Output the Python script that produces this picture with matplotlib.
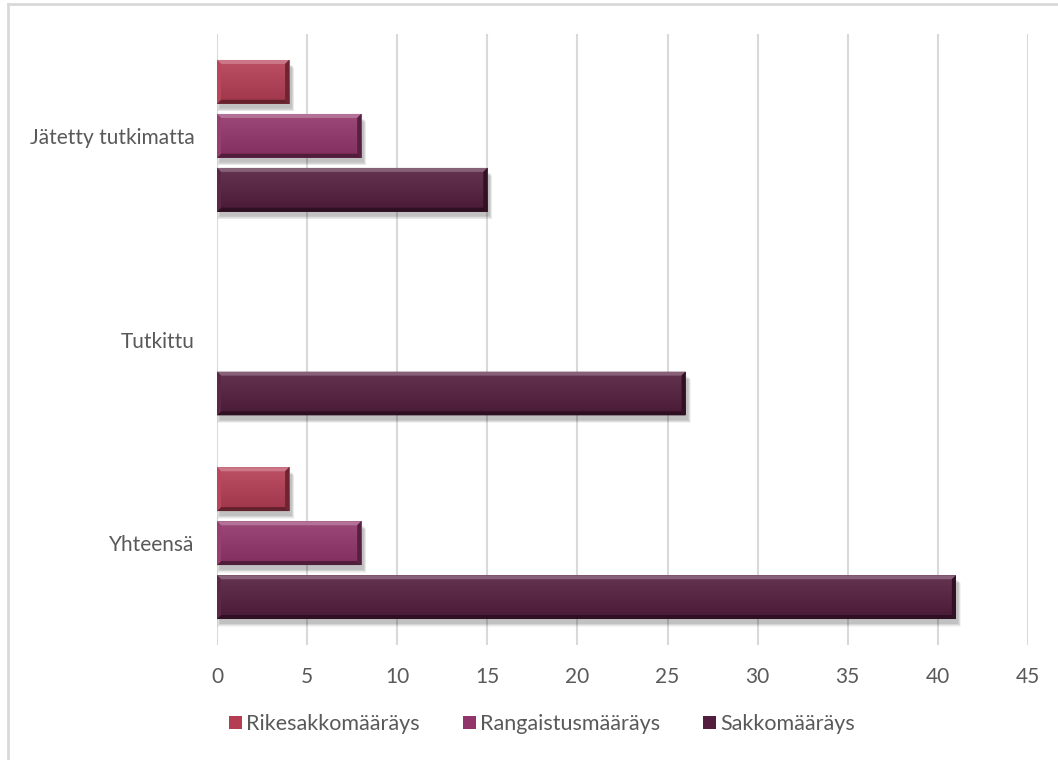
import numpy as np
import matplotlib.pyplot as plt
from matplotlib.colors import to_rgb
from matplotlib.patches import Polygon, Rectangle

plt.rcParams['font.family'] = ['Lato', 'DejaVu Sans']

# Data
categories = ["Yhteensä", "Tutkittu", "Jätetty tutkimatta"]
series_names = ["Rikesakkomääräys", "Rangaistusmääräys", "Sakkomääräys"]
rikesakko = [4, 0, 4]
rangaistus = [8, 0, 8]
sakko = [41, 26, 15]
colors = ["#B53D53", "#92356A", "#531D3D"]

series = [rikesakko, rangaistus, sakko]
offsets = [0.265, 0.0, -0.265]
bar_h = 0.215
text_col = "#595959"
grid_col = "#D9D9D9"

W, H = 1058, 760
fig = plt.figure(figsize=(W / 100, H / 100), dpi=100)
ax = fig.add_axes([217 / W, (H - 645) / H, (1028 - 217) / W, (645 - 34) / H])

ax.set_xlim(0, 45)
ax.set_ylim(-0.5, 2.5)
y = np.arange(len(categories))

# one pixel in data units
px_x = 45 / (1028 - 217)
px_y = 3 / (645 - 34)


def shade(c, f):
    r = np.array(to_rgb(c))
    if f > 0:
        return tuple(r + (1 - r) * f)
    return tuple(r * (1 + f))


for vals, off, col, name in zip(series, offsets, colors, series_names):
    bars = ax.barh(y + off, vals, height=bar_h, color=col, label=name, zorder=3)
    for b in bars:
        x0, y0 = b.get_x(), b.get_y()
        w, h = b.get_width(), b.get_height()
        if w <= 0:
            continue
        x1, y1 = x0 + w, y0 + h
        # soft drop shadow, layered
        for k in range(6):
            g = 1 + k
            ax.add_patch(Rectangle((x0 + (3 - g * 0.5) * px_x, y0 - (4 + g * 0.6) * px_y),
                                   w + (g - 1) * px_x, h,
                                   facecolor='k', alpha=0.045, edgecolor='none', zorder=2))
        # vertical gradient fill
        grad = np.linspace(0, 1, 64)[:, None, None]
        top = np.array(shade(col, 0.10))
        bot = np.array(shade(col, -0.12))
        img = top[None, None, :] * (1 - grad) + bot[None, None, :] * grad
        img = np.repeat(img, 2, axis=1)
        im = ax.imshow(img, extent=(x0, x1, y0, y1), origin='upper', aspect='auto',
                       zorder=3.5, interpolation='bilinear')
        im.set_clip_path(b)
        # bevel edges
        bx, by = 4 * px_x, 4 * px_y
        edges = [
            ([(x0, y1), (x1, y1), (x1 - bx, y1 - by), (x0 + bx, y1 - by)], shade(col, 0.30)),
            ([(x0, y0), (x1, y0), (x1 - bx, y0 + by), (x0 + bx, y0 + by)], shade(col, -0.45)),
            ([(x1, y0), (x1, y1), (x1 - bx, y1 - by), (x1 - bx, y0 + by)], shade(col, -0.40)),
            ([(x0, y0), (x0, y1), (x0 + bx, y1 - by), (x0 + bx, y0 + by)], shade(col, 0.05)),
        ]
        for pts, c in edges:
            ax.add_patch(Polygon(pts, closed=True, facecolor=c, edgecolor='none', zorder=4))

ax.set_xlim(0, 45)
ax.set_ylim(-0.5, 2.5)
ax.set_xticks(np.arange(0, 46, 5))
ax.set_yticks(y)
ax.set_yticklabels(categories)
ax.grid(axis='x', color=grid_col, linewidth=1.5, zorder=0)
ax.set_axisbelow(True)
for s in ax.spines.values():
    s.set_visible(False)
ax.tick_params(axis='both', length=0, colors=text_col, labelsize=15)
ax.tick_params(axis='x', pad=16)
ax.tick_params(axis='y', pad=16)

fig.legend(loc='center', bbox_to_anchor=(542 / W, 1 - 724 / H), ncol=3, frameon=False,
           fontsize=15.5, handlelength=0.6, handleheight=0.6, handletextpad=0.2,
           columnspacing=2.0, labelcolor=text_col,
           handles=[c.patches[0] for c in ax.containers],
           labels=series_names)

# chart border (left and top edges)
fig.add_artist(plt.Line2D([8 / W, 8 / W], [0, 1 - 4 / H], color=grid_col, linewidth=2))
fig.add_artist(plt.Line2D([8 / W, 1], [1 - 4 / H, 1 - 4 / H], color=grid_col, linewidth=2))

fig.savefig("out.png", dpi=100)
